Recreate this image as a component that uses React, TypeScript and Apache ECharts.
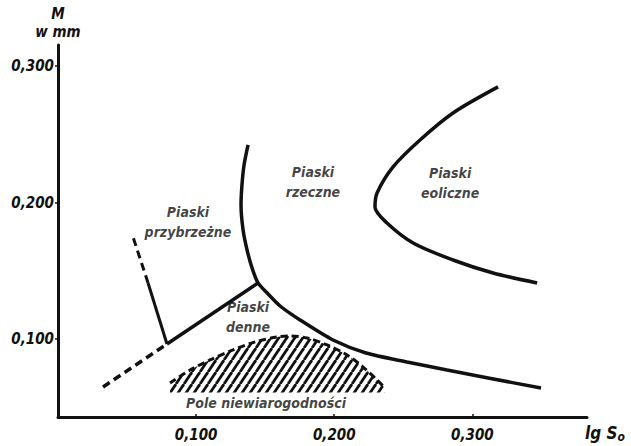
import React, { useEffect, useRef } from 'react';
import * as echarts from 'echarts';

// ---- data (lg So on x, M in mm on y) ----
const xTicks = [0.1, 0.2, 0.3];
const yTicks = [0.1, 0.2, 0.3];

// boundary river sands / beach + dune-bottom sands
const riverBoundary: [number, number][] = [
  [0.1376, 0.2423], [0.1347, 0.2276], [0.1332, 0.213], [0.1325, 0.1983],
  [0.134, 0.18], [0.1369, 0.1653], [0.1405, 0.1522], [0.1448, 0.1412],
  [0.1521, 0.1331], [0.1608, 0.1243], [0.1752, 0.1141], [0.1991, 0.0994],
  [0.223, 0.0899], [0.2527, 0.0833], [0.2817, 0.0774], [0.3114, 0.0716],
  [0.3497, 0.0642],
];

// boundary of eolian sands
const eolianBoundary: [number, number][] = [
  [0.3186, 0.2848], [0.286, 0.2657], [0.2621, 0.2459], [0.2426, 0.2262],
  [0.231, 0.2071], [0.2295, 0.1968], [0.2382, 0.1851], [0.2571, 0.1705],
  [0.286, 0.158], [0.315, 0.1485], [0.3469, 0.1412],
];

const bottomLineSolid: [number, number][] = [[0.0789, 0.0965], [0.1448, 0.1412]];
const bottomLineDashed: [number, number][] = [[0.0326, 0.065], [0.0789, 0.0965]];
const beachLineSolid: [number, number][] = [[0.0789, 0.0965], [0.0652, 0.1412]];
const beachLineDashed: [number, number][] = [[0.0652, 0.1412], [0.0543, 0.1749]];

// field of uncertainty (hatched)
const uncertainArc: [number, number][] = [
  [0.0811, 0.0679], [0.0956, 0.0774], [0.1101, 0.0848], [0.1267, 0.0921],
  [0.1427, 0.098], [0.1586, 0.1016], [0.168, 0.1023], [0.1803, 0.1009],
  [0.1948, 0.0958], [0.2093, 0.0884], [0.2209, 0.0796], [0.231, 0.0701],
  [0.2368, 0.0642],
];
const uncertainBase = 0.061;

const regionNames = ['Piaski\nprzybrzeżne', 'Piaski\nrzeczne', 'Piaski\neoliczne', 'Piaski\ndenne', 'Pole niewiarogodności'];
const regionX = [0.0941, 0.1846, 0.2839, 0.1376, 0.1506];
const regionY = [0.1859, 0.2152, 0.2144, 0.1163, 0.0533];

const FONT = "'Liberation Sans Narrow', 'Arial Narrow', 'DejaVu Sans Condensed', 'Liberation Sans', sans-serif";
const INK = '#111';

function makeHatch(): HTMLCanvasElement {
  const w = 8, h = 12;
  const c = document.createElement('canvas');
  c.width = w; c.height = h;
  const ctx = c.getContext('2d')!;
  ctx.strokeStyle = INK;
  ctx.lineWidth = 2.8;
  for (const dx of [-w, 0, w]) {
    ctx.beginPath();
    ctx.moveTo(dx, h);
    ctx.lineTo(dx + w, 0);
    ctx.stroke();
  }
  return c;
}

const fmt = (v: number) => v.toFixed(3).replace('.', ',');

function buildOption(): any {
  const lineBase = { type: 'line', symbol: 'none', showSymbol: false, silent: true };
  const textStyle = { fontFamily: FONT, fontStyle: 'italic', fontWeight: 'bold', color: INK };
  return {
    animation: false,
    backgroundColor: '#fff',
    grid: { left: 58, right: 44, top: 45, bottom: 29 },
    xAxis: {
      type: 'value', min: 0, max: 0.383,
      axisLine: { show: true, onZero: false, lineStyle: { color: INK, width: 3 } },
      axisTick: { show: true, inside: true, length: 3, customValues: xTicks, lineStyle: { color: INK, width: 1.5 } },
      axisLabel: { customValues: xTicks, formatter: fmt, margin: 10, fontSize: 15, ...textStyle },
      splitLine: { show: false },
      name: '{a|lg S}{b|o}',
      nameLocation: 'end',
      nameGap: 0,
      nameTextStyle: {
        align: 'left', verticalAlign: 'top', padding: [6, 0, 0, -2],
        rich: {
          a: { fontSize: 17, ...textStyle },
          b: { fontSize: 12, ...textStyle, padding: [8, 0, 0, 0] },
        },
      },
    },
    yAxis: {
      type: 'value', min: 0.043, max: 0.3155,
      axisLine: { show: true, onZero: false, lineStyle: { color: INK, width: 3 } },
      axisTick: { show: true, inside: false, length: 3, customValues: yTicks, lineStyle: { color: INK, width: 1.5 } },
      axisLabel: { customValues: yTicks, formatter: fmt, margin: 4, fontSize: 15, ...textStyle },
      splitLine: { show: false },
      name: '{m|M}\n{w|w mm}',
      nameLocation: 'end',
      nameGap: 4,
      nameTextStyle: {
        align: 'center',
        lineHeight: 18,
        rich: {
          m: { fontSize: 15, lineHeight: 18, ...textStyle },
          w: { fontSize: 15, lineHeight: 18, ...textStyle },
        },
      },
    },
    series: [
      {
        ...lineBase, name: 'uncertain', data: uncertainArc, smooth: 0.3,
        lineStyle: { color: INK, width: 3, type: [7, 4] },
        areaStyle: { color: { image: makeHatch(), repeat: 'repeat' }, origin: uncertainBase, opacity: 1 },
        z: 1,
      },
      { ...lineBase, name: 'river', data: riverBoundary, smooth: 0.25, lineStyle: { color: INK, width: 3.5 } },
      { ...lineBase, name: 'eolian', data: eolianBoundary, smooth: 0.3, lineStyle: { color: INK, width: 3.5 } },
      { ...lineBase, name: 'bottomSolid', data: bottomLineSolid, lineStyle: { color: INK, width: 3.5 } },
      { ...lineBase, name: 'bottomDashed', data: bottomLineDashed, lineStyle: { color: INK, width: 3.5, type: [8, 5] } },
      { ...lineBase, name: 'beachSolid', data: beachLineSolid, lineStyle: { color: INK, width: 3 } },
      { ...lineBase, name: 'beachDashed', data: beachLineDashed, lineStyle: { color: INK, width: 3, type: [8, 5] } },
      {
        type: 'scatter', silent: true, symbolSize: 0,
        data: regionNames.map((n, i) => ({ value: [regionX[i], regionY[i]], name: n })),
        label: {
          show: true, position: 'inside', formatter: (p: any) => p.name,
          fontSize: 14, lineHeight: 20, align: 'center', verticalAlign: 'middle', ...textStyle,
        },
        z: 5,
      },
    ],
  };
}

export default function App() {
  const ref = useRef<HTMLDivElement>(null);
  useEffect(() => {
    const chart = echarts.init(ref.current!, null, { renderer: 'svg' });
    chart.setOption(buildOption());
    return () => chart.dispose();
  }, []);
  return (
    <div
      ref={ref}
      style={{ position: 'fixed', left: 0, top: 0, width: 631, height: 446, background: '#fff' }}
    />
  );
}
